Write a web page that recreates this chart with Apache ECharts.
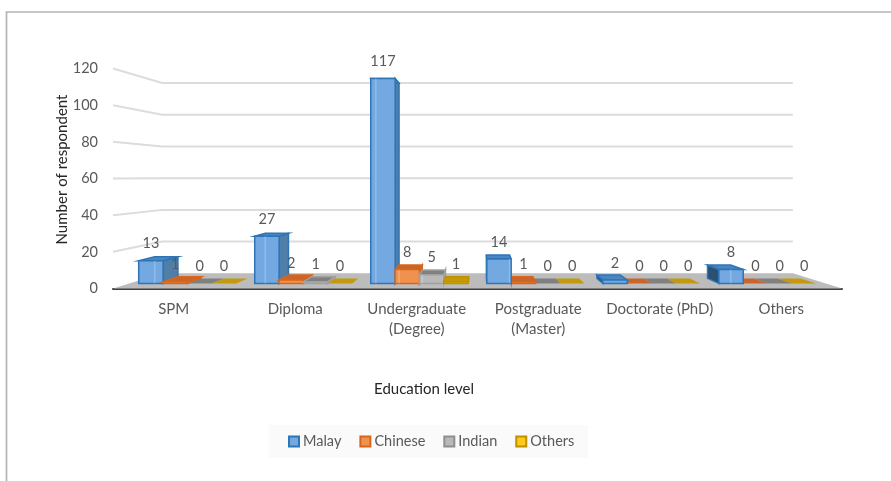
<!DOCTYPE html>
<html><head><meta charset="utf-8">
<style>html,body{margin:0;padding:0;background:#fff}#c{width:891px;height:481px}</style>
<script src="https://cdn.jsdelivr.net/npm/echarts@6/dist/echarts.min.js"></script>
</head><body><div id="c"></div>
<script>
const categories = ['SPM','Diploma','Undergraduate\n(Degree)','Postgraduate\n(Master)','Doctorate (PhD)','Others'];
const valueTicks = [20,40,60,80,100,120];
const malay = [13,27,117,14,2,8];
const chinese = [1,2,8,1,0,0];
const indian = [0,1,5,0,0,0];
const others = [0,0,1,0,0,0];
const seriesNames = ['Malay','Chinese','Indian','Others'];
const seriesValues = [malay,chinese,indian,others];
const palette = [
  {front:'#73a9e0',edge:'#2e75b6',top:'#4a86c2',side:'#4f7ea8',inner:'rgba(255,255,255,0.22)',dark:'#2d4f72'},
  {front:'#f0924f',edge:'#d9651a',top:'#c9652a',side:'#b5632c',inner:'rgba(255,255,255,0.22)',dark:'#8a4a1f'},
  {front:'#b9b9b9',edge:'#a0a0a0',top:'#808080',side:'#808080',inner:'rgba(255,255,255,0.22)',dark:'#666666'},
  {front:'#ffc91f',edge:'#bf9000',top:'#c49a0c',side:'#bf9000',inner:'rgba(255,255,255,0.22)',dark:'#8a6a00'}
];
const legendColors = ['#73a9e0','#f0924f','#b9b9b9','#ffc91f'];
const legendEdges = ['#2e75b6','#d9651a','#8f8f8f','#bf9000'];

const VX=478, VY=176, K=0.135, D0=1/3, D1=2/3;
const TXT='#595959', FONT='Lato, "Open Sans", sans-serif';
function proj(p,d){const k=K*d;return [p[0]+(VX-p[0])*k,p[1]+(VY-p[1])*k];}

function renderGrid(params,api){
  const rect=params.coordSys;
  const y=api.coord([0,api.value(0)])[1];
  const a=[rect.x,y], b=[rect.x+rect.width,y];
  return {type:'polyline',silent:true,
    shape:{points:[a,proj(a,1),proj(b,1)]},
    style:{fill:null,stroke:'#dcdcdc',lineWidth:2}};
}
function renderFloor(params,api){
  const rect=params.coordSys, y=rect.y+rect.height;
  const a=[rect.x,y], b=[rect.x+rect.width,y];
  return {type:'polygon',silent:true,
    shape:{points:[a,proj(a,1),proj(b,1),b]},
    style:{fill:'#bcbcbc'}};
}
function makeBar(si){
  return function(params,api){
    const cat=api.value(0), v=api.value(1);
    const c=api.coord([cat,v]), base=api.coord([cat,0]);
    const band=api.size([1,0])[0], w=band*0.21;
    const xl=c[0]-band*0.42+si*w, xr=xl+w;
    const col=palette[si];
    const fbl=proj([xl,base[1]],D0), fbr=proj([xr,base[1]],D0);
    const ftl=proj([xl,c[1]],D0), ftr=proj([xr,c[1]],D0);
    const bbl=proj([xl,base[1]],D1), bbr=proj([xr,base[1]],D1);
    const btl=proj([xl,c[1]],D1), btr=proj([xr,c[1]],D1);
    const leftHalf=(xl+xr)/2<VX;
    const z=leftHalf?si:4-si;
    const kids=[];
    if(v>0){
      if(leftHalf&&btr[0]>ftr[0]){
        kids.push({type:'polygon',z2:z,shape:{points:[fbr,ftr,btr,bbr]},style:{fill:col.side,stroke:col.edge,lineWidth:1.5}});
      }else if(!leftHalf&&btl[0]<ftl[0]){
        kids.push({type:'polygon',z2:z,shape:{points:[fbl,ftl,btl,bbl]},style:{fill:col.dark,stroke:col.edge,lineWidth:1.5}});
      }
    }
    kids.push({type:'polygon',z2:z,shape:{points:[ftl,ftr,btr,btl]},
      style:{fill:col.top,stroke:v>0?col.edge:null,lineWidth:v>0?1.5:0}});
    if(v>0){
      kids.push({type:'polygon',z2:z,shape:{points:[fbl,fbr,ftr,ftl]},style:{fill:col.front,stroke:col.edge,lineWidth:1.5}});
      if(ftl[1]<fbl[1]-6){
        const ix=leftHalf?btl[0]:btr[0];
        kids.push({type:'line',z2:z,shape:{x1:ix,y1:ftl[1],x2:ix,y2:fbl[1]},style:{stroke:col.inner,lineWidth:1.5}});
      }
    }
    kids.push({type:'text',z2:20,x:(ftl[0]+ftr[0])/2,y:ftl[1]-17,
      style:{text:String(v),fill:TXT,font:'14.5px '+FONT,align:'center',verticalAlign:'middle'}});
    return {type:'group',children:kids};
  };
}

const series=[
  {type:'custom',name:'walls',coordinateSystem:'cartesian2d',z:1,silent:true,data:valueTicks.map(v=>[v]),encode:{y:0},renderItem:renderGrid},
  {type:'custom',name:'floor',coordinateSystem:'cartesian2d',z:1,silent:true,data:[[0]],encode:{y:0},renderItem:renderFloor}
];
seriesNames.forEach((n,si)=>{
  series.push({type:'custom',name:n,coordinateSystem:'cartesian2d',z:3,
    itemStyle:{color:legendColors[si],borderColor:legendEdges[si],borderWidth:1.5},
    data:seriesValues[si].map((v,i)=>[i,v]),encode:{x:0,y:1},renderItem:makeBar(si)});
});

const chart=echarts.init(document.getElementById('c'),null,{width:891,height:481});
chart.setOption({
  animation:false,
  backgroundColor:'#fff',
  textStyle:{fontFamily:FONT},
  graphic:[{type:'polyline',silent:true,shape:{points:[[6.5,481],[6.5,12],[891,12]]},style:{fill:null,stroke:'#b4b4b4',lineWidth:1.7}}],
  grid:{left:113,right:49,top:68.5,bottom:192.5,containLabel:false},
  xAxis:{type:'category',data:categories,
    name:'Education level',nameLocation:'middle',nameGap:93,
    nameTextStyle:{fontSize:15,color:'#262626',fontFamily:FONT,padding:[0,0,0,-107]},
    axisTick:{show:false},
    axisLine:{lineStyle:{color:'#404040',width:2}},
    axisLabel:{fontSize:15,color:TXT,margin:11,lineHeight:20,fontFamily:FONT,interval:0}},
  yAxis:{type:'value',min:0,max:120,interval:20,
    name:'Number of respondent',nameLocation:'middle',nameGap:43,nameRotate:90,nameMoveOverlap:false,
    nameTextStyle:{fontSize:15,color:'#262626',fontFamily:FONT,padding:[0,0,0,18]},
    axisLine:{show:false},axisTick:{show:false},splitLine:{show:false},
    axisLabel:{fontSize:14.5,color:TXT,margin:15,fontFamily:FONT}},
  legend:{data:seriesNames,left:269,top:425,
    backgroundColor:'#fafafa',padding:[9,14,9,19],
    itemWidth:10,itemHeight:10,itemGap:18,icon:'rect',
    textStyle:{fontSize:14.5,color:TXT,fontFamily:FONT,padding:[0,0,0,-1]}},
  series
});
</script></body></html>
